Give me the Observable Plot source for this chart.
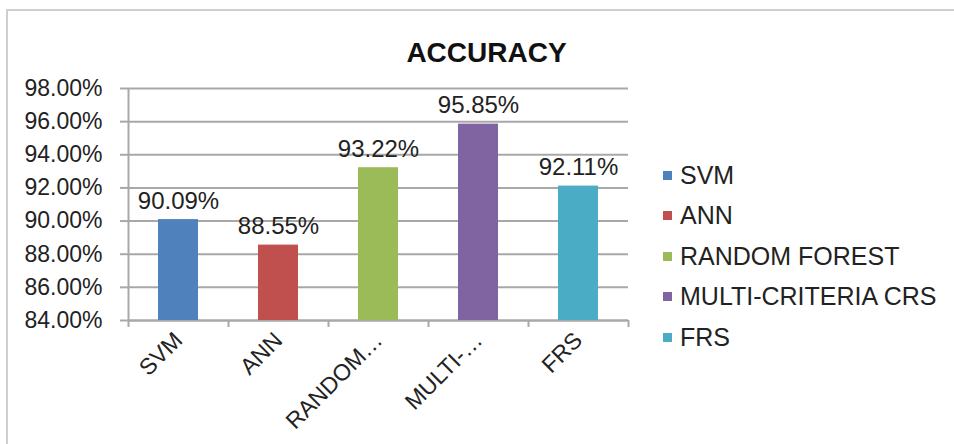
<!DOCTYPE html>
<html><head><meta charset="utf-8">
<script src="https://cdn.jsdelivr.net/npm/d3@7"></script>
<script src="https://cdn.jsdelivr.net/npm/@observablehq/plot@0.6"></script>
<style>
body{margin:0;background:#fff;}
#wrap{position:relative;width:954px;height:444px;overflow:hidden;font-family:"Liberation Sans",Arial,sans-serif;}
#border{position:absolute;left:6px;top:9px;width:1000px;height:1000px;border-left:2px solid #cfcfcf;border-top:2px solid #cfcfcf;}
#legend{position:absolute;left:663px;top:155px;}
.item{display:flex;align-items:center;height:40.5px;font-size:25px;color:#222;white-space:nowrap;}
.sw{width:9px;height:9px;margin-right:8px;flex:none;}
</style></head><body><div id="wrap"><div id="border"></div></div>
<script>
const categories = ["SVM","ANN","RANDOM FOREST","MULTI-CRITERIA CRS","FRS"];
const axisLabels = ["SVM","ANN","RANDOM…","MULTI-…","FRS"];
const accuracy = [90.09, 88.55, 93.22, 95.85, 92.11];
const colors = ["#4F81BD","#C0504D","#9BBB59","#8064A2","#4BACC6"];
const yTicks = [84,86,88,90,92,94,96,98];
const title = "ACCURACY";

const data = categories.map((c,i)=>({category:c, value:accuracy[i]}));
const labelOf = new Map(categories.map((c,i)=>[c, axisLabels[i]]));
const gridColor = "#a8a8a8";
const font = "'Liberation Sans', Arial, sans-serif";

const plot = Plot.plot({
  width:954, height:444, marginLeft:128, marginRight:326, marginTop:88, marginBottom:124,
  style:{fontFamily:font, fontSize:"22px", color:"#222", background:"transparent", overflow:"visible"},
  x:{domain:categories, paddingInner:0.6, paddingOuter:0.3, axis:null},
  y:{domain:[yTicks[0], yTicks[yTicks.length-1]], axis:null},
  color:{domain:categories, range:colors},
  marks:[
    Plot.gridY(yTicks, {stroke:gridColor, strokeOpacity:1, strokeWidth:2}),
    Plot.axisY(yTicks, {label:null, tickSize:8, tickPadding:18, tickFormat:d=>d.toFixed(2)+"%", stroke:gridColor, strokeWidth:2, fill:"#222", fontSize:23}),
    Plot.ruleX([categories[0]], {dx:-50, y1:yTicks[0], y2:yTicks[yTicks.length-1], stroke:gridColor, strokeWidth:2}),
    Plot.ruleY([yTicks[0]], {stroke:gridColor, strokeWidth:2}),
    Plot.ruleX(categories, {x:d=>d, dx:-50, y1:yTicks[0], y2:yTicks[0], insetBottom:-7, stroke:gridColor, strokeWidth:2}),
    Plot.ruleX([categories[categories.length-1]], {x:d=>d, dx:50, y1:yTicks[0], y2:yTicks[0], insetBottom:-7, stroke:gridColor, strokeWidth:2}),
    Plot.barY(data, {x:"category", y1:yTicks[0], y2:"value", fill:"category"}),
    Plot.text(data, {x:"category", y:"value", text:d=>d.value.toFixed(2)+"%", lineAnchor:"bottom", dy:-11, fontSize:24, fill:"#222"}),
    Plot.axisX({label:null, tickSize:0, tickPadding:16, tickRotate:-45, tickFormat:d=>labelOf.get(d), fontSize:23, fill:"#222"}),
    Plot.text([title], {frameAnchor:"top", dx:108, dy:-46, fontSize:28, fontWeight:"bold", fill:"#111"})
  ]
});
const wrap = document.getElementById("wrap");
wrap.appendChild(plot);

const legend = document.createElement("div");
legend.id = "legend";
const color = plot.scale("color");
categories.forEach((c,i)=>{
  const item = document.createElement("div");
  item.className = "item";
  const sw = document.createElement("span");
  sw.className = "sw";
  sw.style.background = color.range[i];
  item.appendChild(sw);
  item.appendChild(document.createTextNode(c));
  legend.appendChild(item);
});
wrap.appendChild(legend);
</script>
</body></html>
